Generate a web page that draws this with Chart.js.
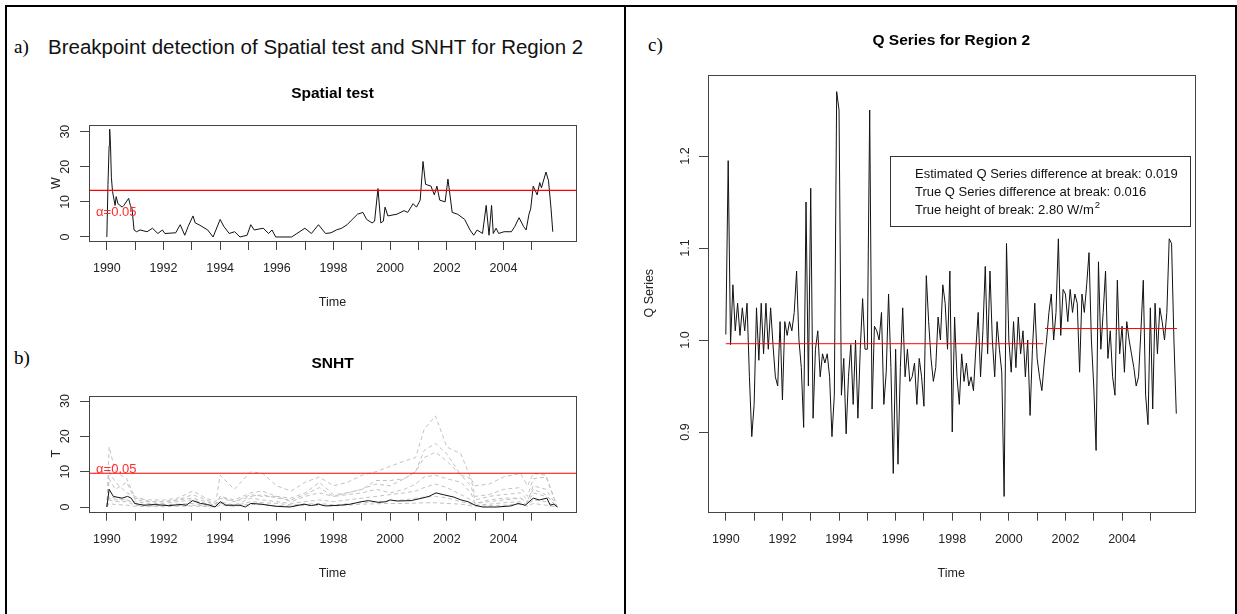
<!DOCTYPE html>
<html>
<head>
<meta charset="utf-8">
<title>Breakpoint detection, Region 2</title>
<script src="https://cdn.jsdelivr.net/npm/chart.js@4.4.1/dist/chart.umd.min.js"></script>
<style>
  body { margin: 0; background: #fff; }
  #page { position: relative; width: 1237px; height: 614px; overflow: hidden; font-family: "Liberation Sans", Arial, sans-serif; }
  .rule { position: absolute; background: #000; }
  .tag { position: absolute; font-family: "Liberation Serif", "Times New Roman", serif; font-size: 19px; line-height: 22px; color: #000; }
  #head { position: absolute; left: 48px; top: 35px; font-size: 20.5px; line-height: 24px; color: #111; white-space: nowrap; }
  canvas { position: absolute; }
</style>
</head>
<body>
<div id="page">
  <div class="rule" style="left:5px;top:5px;width:1232px;height:2px"></div>
  <div class="rule" style="left:5px;top:5px;width:2px;height:609px"></div>
  <div class="rule" style="left:624px;top:5px;width:2px;height:609px"></div>
  <div class="rule" style="left:1235px;top:5px;width:2px;height:609px"></div>

  <div class="tag" style="left:14px;top:36px">a)</div>
  <div id="head">Breakpoint detection of Spatial test and SNHT for Region 2</div>
  <div class="tag" style="left:14px;top:347px">b)</div>
  <div class="tag" style="left:648px;top:34px">c)</div>

  <canvas id="spatial" width="560" height="255" style="left:40px;top:60px"></canvas>
  <canvas id="snht" width="560" height="245" style="left:40px;top:340px"></canvas>
  <canvas id="qseries" width="600" height="600" style="left:630px;top:0px"></canvas>
</div>

<script>
var FONT = '"Liberation Sans", Arial, Helvetica, sans-serif';
var INK = '#222';
var AXIS = '#444';
var RED = 'rgb(255, 0, 0)';

// time axis shared by all three panels
var yearTicks = [1990, 1991, 1992, 1993, 1994, 1995, 1996, 1997, 1998, 1999, 2000, 2001, 2002, 2003, 2004, 2005];
var yearLabels = [1990, 1992, 1994, 1996, 1998, 2000, 2002, 2004];

// a) spatial test statistic W
var spatialYears = [1990.00, 1990.04, 1990.08, 1990.10, 1990.13, 1990.16, 1990.20, 1990.29, 1990.33, 1990.39, 1990.54, 1990.60, 1990.77, 1990.83, 1990.89, 1990.96,
  1991.05, 1991.17, 1991.42, 1991.61, 1991.80, 1991.96, 1992.05, 1992.43, 1992.59, 1992.75, 1992.87,
  1993.04, 1993.12, 1993.25, 1993.56, 1993.75, 1994.00, 1994.13, 1994.32, 1994.51, 1994.70, 1994.95,
  1995.08, 1995.20, 1995.52, 1995.71, 1995.83, 1995.96, 1996.52, 1996.71, 1996.99, 1997.22, 1997.47, 1997.72, 1997.91,
  1998.10, 1998.29, 1998.48, 1998.66, 1998.85, 1999.04, 1999.17, 1999.36, 1999.45, 1999.57, 1999.67, 1999.76, 1999.82, 1999.92,
  2000.24, 2000.49, 2000.62, 2000.81, 2000.93, 2001.06, 2001.16, 2001.25, 2001.44, 2001.56, 2001.65, 2001.75, 2001.94,
  2002.04, 2002.19, 2002.38, 2002.63, 2002.82, 2002.95, 2003.07, 2003.26, 2003.39, 2003.49, 2003.58, 2003.64, 2003.74, 2003.83,
  2004.02, 2004.28, 2004.40, 2004.55, 2004.71, 2004.80, 2004.90, 2004.96, 2005.05, 2005.19, 2005.28, 2005.34, 2005.50, 2005.59, 2005.68, 2005.74];
var spatialW = [0, 15, 26, 30.7, 26, 17, 13, 9, 11.5, 9.5, 8.5, 9, 11, 9, 8, 2,
  1.5, 2, 1.5, 2.5, 1, 2, 1, 1.2, 3.5, 0.5, 3,
  6, 4, 3.5, 2, 0, 5, 3, 1, 1.5, 0, 0.5,
  3.5, 2, 2.5, 1, 2, 0, 0, 1, 2.5, 1, 3.5, 1, 1.2,
  2, 2.5, 3.5, 5, 6.5, 7, 5, 4, 4.5, 13.8, 4, 4.5, 8.5, 6,
  6.5, 7.5, 7, 9.5, 8.5, 10.5, 21.5, 15, 14.5, 12, 14.5, 10.5, 10,
  16.5, 7, 6.5, 5, 2, 0.5, 2, 1, 9, 0.5, 9, 1, 2.5, 1,
  1.5, 1.5, 3, 5.5, 3, 2, 6.5, 8, 14.5, 12, 15.5, 14, 18.5, 16, 8, 1.5];
var spatialCritical = 13.3;

// b) SNHT statistic T: summary (black) and single stations (grey, dashed)
var snhtBlackYears = [1990.0, 1990.08, 1990.23, 1990.54, 1990.73, 1990.86, 1990.98, 1991.3, 1991.67, 1992.17, 1992.62, 1992.8,
  1993.03, 1993.31, 1993.56, 1993.82, 1994.0, 1994.2, 1994.7, 1994.89, 1995.08, 1995.45, 1995.96, 1996.46, 1996.96,
  1997.22, 1997.47, 1997.72, 1998.22, 1998.6, 1998.98, 1999.23, 1999.6, 1999.86, 1999.99, 2000.24, 2000.74,
  2001.12, 2001.37, 2001.62, 2001.87, 2002.25, 2002.5, 2002.75, 2003.0, 2003.26, 2003.76, 2004.26, 2004.52, 2004.77,
  2005.05, 2005.27, 2005.53, 2005.65, 2005.78, 2005.9];
var snhtBlackT = [0, 5, 3, 2.5, 3, 2.5, 1, 0.5, 0.7, 0.4, 0.7, 0.5,
  1.8, 1, 0.7, 0, 1.5, 0.5, 0.5, 0, 1, 0.8, 0.2, 0, 0.8,
  0.4, 0.8, 0.3, 0.5, 0.8, 1.5, 1.8, 1.3, 1.5, 2, 1.7, 1.8,
  2.5, 3, 4, 3.5, 2.8, 2, 1.5, 0.5, 0, 0, 0.3, 1, 0.5,
  2.5, 2, 2.5, 0.5, 0.8, 0];
var snhtYears = [1990.0, 1990.08, 1990.3, 1990.7, 1991.0, 1991.5, 1992.0, 1992.5, 1993.03, 1993.5, 1993.85, 1994.0, 1994.5,
  1995.08, 1995.5, 1996.0, 1996.5, 1997.0, 1997.5, 1998.0, 1998.5, 1999.0, 1999.5, 2000.0, 2000.5, 2000.9, 2001.2,
  2001.6, 2002.0, 2002.5, 2002.85, 2003.0, 2003.5, 2004.0, 2004.6, 2004.85, 2005.05, 2005.5, 2005.9];
var greyA = [0, 17, 10, 8, 2.5, 2, 2, 2.5, 4.5, 2.5, 1.5, 9, 5, 10, 9.5, 6, 4.5, 7, 8.5, 6, 7, 9, 10, 11.5, 13, 14, 22, 25.8, 17, 15, 8, 6, 6.5, 8.5, 9.5, 6, 9.5, 9, 0];
var greyB = [0, 10, 7, 4, 3, 1.5, 1.5, 2, 3.5, 2, 1, 3, 2, 4, 4.5, 3, 2.5, 4, 7, 3.5, 4, 5, 7.5, 7.5, 8, 10, 16, 18, 15, 9, 8, 3, 3.5, 5, 5.5, 3, 8, 8.5, 0];
var greyC = [0, 3, 2.5, 2, 1.5, 1, 1, 1.5, 2, 1, 0.5, 2.5, 1.5, 3.5, 3, 3, 1.5, 3, 4, 3, 4, 5, 6.5, 6, 8, 10, 14, 15.5, 13, 9, 6, 2, 3, 3.5, 4, 2, 5, 3.5, 0];
var greyD = [0, 2.5, 2, 2, 1, 0.5, 0.7, 0.8, 1, 0.5, 0, 1.5, 0.5, 2.5, 2, 1.5, 1, 1.5, 2, 1.5, 2, 2.5, 3, 3.5, 4, 4.5, 5.5, 6.5, 5.5, 3.5, 2, 1, 1.5, 2, 2.5, 1, 4, 3, 0];
var greyE = [0, 2, 1.5, 1.5, 0.5, 0.3, 0.4, 0.5, 0.5, 0.3, 0.2, 1, 0.3, 1.5, 1.2, 1, 0.6, 0.8, 1, 0.6, 0.9, 1.2, 1.5, 1.8, 2, 2.5, 2.8, 3, 2.6, 1.5, 0.8, 0.5, 0.8, 1.2, 1.5, 0.5, 2, 1.5, 0];
var greyF = [0, 1, 0.7, 0.5, 0.2, 0.1, 0.1, 0.2, 0.3, 0.1, 0, 0.5, 0.2, 0.8, 0.6, 0.4, 0.3, 0.4, 0.5, 0.3, 0.5, 0.8, 0.9, 1, 1, 1.1, 1.2, 1.2, 1, 0.8, 0.3, 0.2, 0.4, 0.5, 0.8, 0.2, 1, 0.5, 0];
var greyG = [0, 8, 5, 7, 2, 1.5, 1.5, 2, 2.5, 1.5, 0.8, 3, 1.5, 3, 3.5, 2.5, 2, 3.5, 5.5, 3, 3.5, 4, 5, 4, 5, 6.5, 8.5, 9, 8, 7, 4, 1, 2, 2.5, 2.5, 1.5, 6, 5, 0];
var snhtCritical = 9.55;

// c) monthly Q series, Jan 1990 - Dec 2005
var qStart = 1990;
var qSeries = [
  1.006, 1.195, 0.995, 1.06, 1.01, 1.04, 1.005, 1.035, 1.01, 1.04, 0.96, 0.895,
  0.93, 1.035, 0.978, 1.04, 0.985, 1.04, 0.99, 1.035, 0.995, 0.96, 0.95, 1.02,
  0.935, 1.02, 1.005, 1.02, 1.01, 1.03, 1.075, 1.0, 0.97, 0.905, 1.15, 0.95,
  1.165, 0.915, 0.99, 1.01, 0.96, 0.985, 0.975, 0.985, 0.96, 0.895, 0.94, 1.27,
  1.25, 0.94, 0.98, 0.898, 0.96, 0.995, 0.93, 1.0, 0.915, 0.99, 1.045, 0.99,
  0.99, 1.25, 0.925, 1.015, 1.01, 1.0, 1.03, 0.93, 0.965, 1.05, 0.97, 0.855,
  0.99, 0.865, 0.97, 1.035, 0.96, 0.99, 0.955, 0.96, 0.975, 0.93, 0.98, 0.96,
  0.928, 1.07, 1.02, 0.98, 0.955, 0.97, 1.025, 1.0, 1.06, 1.04, 0.99, 1.075,
  0.9, 1.025, 0.96, 0.93, 0.985, 0.955, 0.975, 0.95, 0.96, 0.945, 0.99, 1.03,
  0.96, 1.01, 1.08, 0.985, 1.075, 1.0, 0.96, 1.02, 0.99, 0.965, 0.83, 1.105,
  1.0, 0.965, 1.02, 0.97, 1.025, 0.985, 1.01, 0.96, 1.0, 0.918, 0.99, 1.04,
  0.98, 0.96, 0.945, 0.975, 1.0, 1.03, 1.05, 1.0, 1.03, 1.11, 1.005, 1.055,
  1.05, 1.02, 1.055, 1.03, 1.05, 1.04, 0.965, 1.05, 1.03, 1.06, 1.095, 1.0,
  0.95, 0.88, 1.085, 0.99, 1.03, 1.075, 0.98, 1.01, 0.96, 0.94, 1.065, 0.985,
  1.015, 0.965, 1.02, 1.0, 0.985, 0.97, 0.95, 0.96, 1.01, 1.065, 0.94, 0.908,
  1.035, 0.925, 1.04, 0.985, 1.035, 1.02, 1.0, 1.03, 1.11, 1.105, 1.0, 0.92];
// mean level before / after the detected break
var qLevelYears = [1990, 2001.22, 2001.28, 2005.94];
var qLevels = [0.996, 1.0125];
var qNotes = ['Estimated Q Series difference at break: 0.019', 'True Q Series difference at break: 0.016', 'True height of break: 2.80 W/m'];

function pairs(xs, ys) {
  return xs.map(function (x, i) { return { x: x, y: ys[i] }; });
}

function monthly(start, ys) {
  return ys.map(function (y, i) { return { x: start + i / 12, y: y }; });
}

function grey(vals) {
  return { data: pairs(snhtYears, vals), borderColor: '#c2c2c2', borderWidth: 1, borderDash: [4, 3] };
}

// the critical value is just another series spanning the x range
function critical(level) {
  return { data: pairs([1989.37, 2006.56], [level, level]), borderColor: RED, borderWidth: 1.2 };
}

// R-like decorations: box, rotated y labels, notes
var rDecor = {
  id: 'rDecor',
  afterDraw: function (chart, args, o) {
    var c = chart.ctx, a = chart.chartArea, xs = chart.scales.x, ys = chart.scales.y;
    c.save();
    c.setLineDash([]);
    if (o.note) {
      c.fillStyle = '#ff2a2a';
      c.font = '13px ' + FONT;
      c.textAlign = 'left';
      c.textBaseline = 'middle';
      c.fillText(o.note.text, xs.getPixelForValue(o.note.x), ys.getPixelForValue(o.note.y));
    }
    c.strokeStyle = AXIS;
    c.lineWidth = 1;
    c.strokeRect(Math.round(a.left) + 0.5, Math.round(a.top) + 0.5, Math.round(a.right - a.left), Math.round(a.bottom - a.top));

    c.fillStyle = INK;
    c.font = '12.5px ' + FONT;
    c.textAlign = 'center';
    c.textBaseline = 'alphabetic';
    o.yTicks.forEach(function (v, i) {
      c.save();
      c.translate(a.left - o.yGap, ys.getPixelForValue(v));
      c.rotate(-Math.PI / 2);
      c.fillText(o.yLabels[i], 0, 0);
      c.restore();
    });

    if (o.legend) {
      var L = o.legend;
      c.strokeStyle = '#333';
      c.strokeRect(L.left + 0.5, L.top + 0.5, L.width, L.height);
      c.fillStyle = '#111';
      c.font = '13px ' + FONT;
      c.textAlign = 'left';
      c.textBaseline = 'middle';
      L.lines.forEach(function (t, i) {
        c.fillText(t, L.textX, L.firstY + i * L.step);
      });
      // superscript on the unit of the last line
      var last = L.lines.length - 1;
      var w = c.measureText(L.lines[last]).width;
      c.font = '9.5px ' + FONT;
      c.fillText('2', L.textX + w + 1, L.firstY + last * L.step - 5);
    }
    c.restore();
  }
};

function rPanel(id, p) {
  return new Chart(document.getElementById(id), {
    type: 'line',
    data: { datasets: p.datasets },
    options: {
      responsive: false,
      animation: false,
      events: [],
      layout: { padding: { left: 0, top: 0, bottom: 0, right: p.padRight } },
      elements: { point: { radius: 0 }, line: { tension: 0, borderWidth: 1 } },
      plugins: {
        legend: { display: false },
        tooltip: { enabled: false },
        title: {
          display: true, text: p.title, fullSize: false, color: '#000',
          font: { family: FONT, size: 15.5, weight: 'bold' },
          padding: p.titlePad
        },
        rDecor: p.decor
      },
      scales: {
        x: {
          type: 'linear', min: 1989.37, max: 2006.56,
          afterBuildTicks: function (s) { s.ticks = yearTicks.map(function (v) { return { value: v }; }); },
          afterFit: function (s) { s.height = p.xHeight; },
          border: { display: false },
          grid: { drawOnChartArea: false, tickLength: 9, color: AXIS },
          ticks: {
            autoSkip: false, maxRotation: 0, minRotation: 0, padding: 11, color: INK,
            font: { family: FONT, size: 12.5 },
            callback: function (v) { return yearLabels.indexOf(v) >= 0 ? String(v) : ''; }
          },
          title: { display: true, text: 'Time', color: INK, font: { family: FONT, size: 12.5 }, padding: { top: 0, bottom: p.timePad } }
        },
        y: {
          min: p.yMin, max: p.yMax,
          afterBuildTicks: function (s) { s.ticks = p.decor.yTicks.map(function (v) { return { value: v }; }); },
          afterFit: function (s) { s.width = p.yWidth; },
          border: { display: false },
          grid: { drawOnChartArea: false, tickLength: 9, color: AXIS },
          ticks: { display: false },
          title: { display: true, text: p.yTitle, color: INK, font: { family: FONT, size: 12.5 }, padding: { top: p.yTitlePad, bottom: 0 } }
        }
      }
    },
    plugins: [rDecor]
  });
}

rPanel('spatial', {
  title: 'Spatial test', titlePad: { top: 24.7, bottom: 21.7 },
  padRight: 24, xHeight: 74, yWidth: 49, timePad: 4.5,
  yTitle: 'W', yTitlePad: 9.5, yMin: -1.14, yMax: 31.9,
  datasets: [
    critical(spatialCritical),
    { data: pairs(spatialYears, spatialW), borderColor: '#111', borderWidth: 1 }
  ],
  decor: {
    yTicks: [0, 10, 20, 30], yLabels: ['0', '10', '20', '30'], yGap: 20,
    note: { text: 'α=0.05', x: 1989.62, y: 6.9 }
  }
});

rPanel('snht', {
  title: 'SNHT', titlePad: { top: 14, bottom: 23.1 },
  padRight: 24, xHeight: 73.3, yWidth: 49, timePad: 3.5,
  yTitle: 'T', yTitlePad: 9.5, yMin: -1.33, yMax: 31.5,
  datasets: [
    critical(snhtCritical),
    { data: pairs(snhtBlackYears, snhtBlackT), borderColor: '#111', borderWidth: 1 },
    grey(greyA), grey(greyB), grey(greyC), grey(greyD), grey(greyE), grey(greyF), grey(greyG)
  ],
  decor: {
    yTicks: [0, 10, 20, 30], yLabels: ['0', '10', '20', '30'], yGap: 20,
    note: { text: 'α=0.05', x: 1989.62, y: 10.75 }
  }
});

rPanel('qseries', {
  title: 'Q Series for Region 2', titlePad: { top: 31, bottom: 25.1 },
  padRight: 35.5, xHeight: 88.3, yWidth: 78, timePad: 18.5,
  yTitle: 'Q Series', yTitlePad: 12.5, yMin: 0.8134, yMax: 1.2884,
  datasets: [
    { data: pairs(qLevelYears.slice(0, 2), [qLevels[0], qLevels[0]]), borderColor: RED, borderWidth: 1 },
    { data: pairs(qLevelYears.slice(2, 4), [qLevels[1], qLevels[1]]), borderColor: RED, borderWidth: 1 },
    { data: monthly(qStart, qSeries), borderColor: '#111', borderWidth: 1 }
  ],
  decor: {
    yTicks: [0.9, 1.0, 1.1, 1.2], yLabels: ['0.9', '1.0', '1.1', '1.2'], yGap: 19,
    legend: { left: 260, top: 156, width: 300, height: 70, textX: 285, firstY: 174, step: 18, lines: qNotes }
  }
});
</script>
</body>
</html>
